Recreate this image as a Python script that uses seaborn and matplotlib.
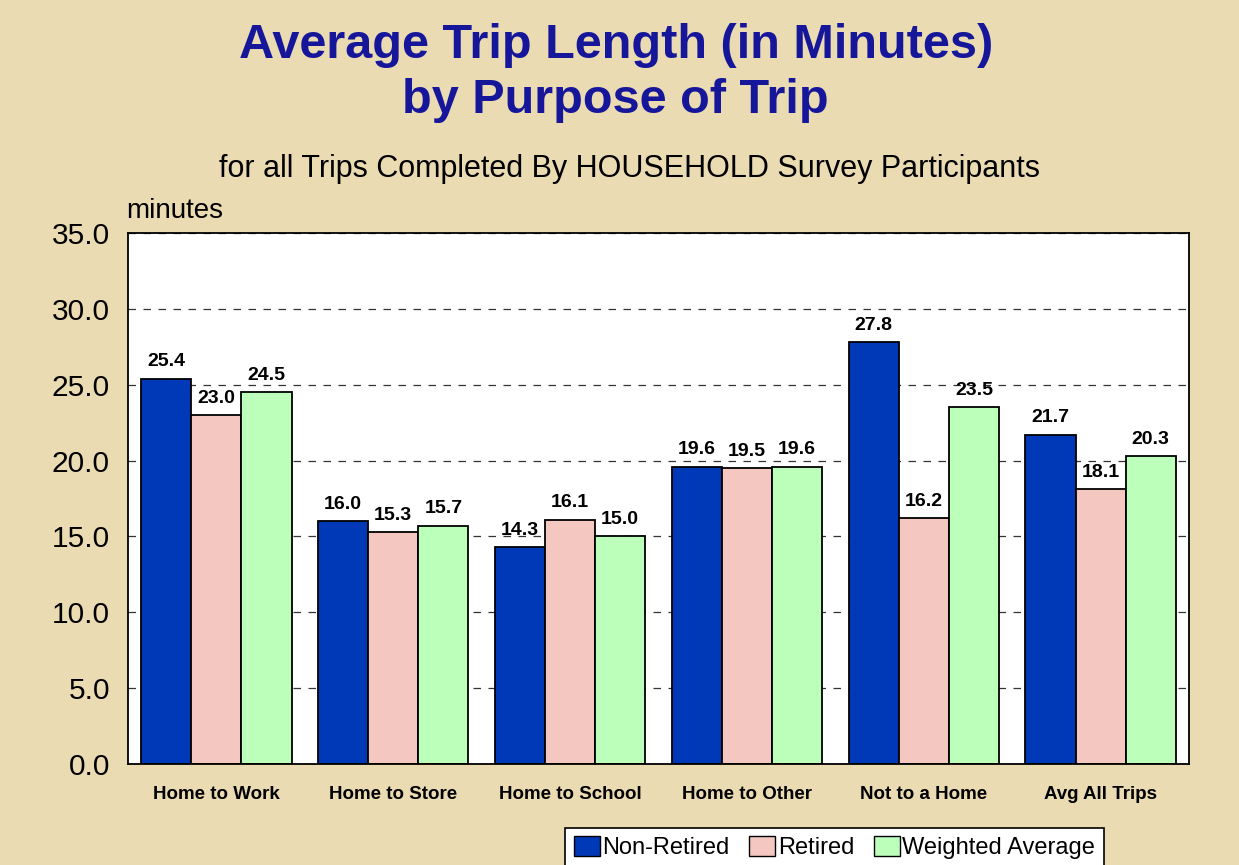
import pandas as pd
import matplotlib
matplotlib.use('Agg')
import matplotlib.pyplot as plt
import seaborn as sns

# Dados
categorias = ['Home to Work', 'Home to Store', 'Home to School', 'Home to Other', 'Not to a Home', 'Avg All Trips']
series = ['Non-Retired', 'Retired', 'Weighted Average']
non_retired = [25.4, 16.0, 14.3, 19.6, 27.8, 21.7]
retired = [23.0, 15.3, 16.1, 19.5, 16.2, 18.1]
weighted = [24.5, 15.7, 15.0, 19.6, 23.5, 20.3]
y_ticks = [0, 5, 10, 15, 20, 25, 30, 35]

cores = ['#0039B8', '#F4C8C0', '#BBFFBB']

df = pd.DataFrame({
    'categoria': categorias * 3,
    'serie': [series[0]] * 6 + [series[1]] * 6 + [series[2]] * 6,
    'valor': non_retired + retired + weighted,
})

sns.set_style("white")
plt.rcParams['font.family'] = ['Liberation Sans', 'DejaVu Sans']
plt.rcParams['text.color'] = 'black'
plt.rcParams['xtick.color'] = 'black'
plt.rcParams['ytick.color'] = 'black'

fig = plt.figure(figsize=(12.39, 8.65), dpi=100)
fig.patch.set_facecolor('#EADBB2')
ax = fig.add_axes([0.1033, 0.1168, 0.8564, 0.6138])

sns.barplot(data=df, x='categoria', y='valor', hue='serie', order=categorias,
            hue_order=series, palette=cores, saturation=1, width=0.85, gap=0,
            edgecolor='black', linewidth=1.3, ax=ax, legend=True)

for cont in ax.containers:
    ax.bar_label(cont, fmt='%.1f', padding=6, fontsize=14, fontweight='bold', zorder=5)

ax.set_ylim(0, 35)
ax.set_yticks(y_ticks)
ax.set_yticklabels([f'{v:.1f}' for v in y_ticks], fontsize=21.5)
ax.set_xlim(-0.5, 5.5)
ax.set_xlabel('')
ax.set_ylabel('')
ax.tick_params(axis='x', length=0, pad=16, labelsize=13.5)
for lbl in ax.get_xticklabels():
    lbl.set_fontweight('bold')
ax.tick_params(axis='y', direction='out', length=7, width=1, color='black', pad=6)
ax.yaxis.grid(True, linestyle=(0, (6, 6)), color='#333333', linewidth=0.9)
ax.set_axisbelow(True)
for s in ax.spines.values():
    s.set_color('black')
    s.set_linewidth(1.3)
ax.set_facecolor('white')

# Títulos
fig.text(0.497, 0.947, 'Average Trip Length (in Minutes)', ha='center', va='center',
         fontsize=35, fontweight='bold', color='#16169A')
fig.text(0.497, 0.884, 'by Purpose of Trip', ha='center', va='center',
         fontsize=35, fontweight='bold', color='#16169A')
fig.text(0.508, 0.805, 'for all Trips Completed By HOUSEHOLD Survey Participants',
         ha='center', va='center', fontsize=22)
fig.text(0.102, 0.756, 'minutes', ha='left', va='center', fontsize=20)

# Legenda
ax.legend_.remove()
handles = [plt.Rectangle((0, 0), 1, 1, facecolor=c, edgecolor='black', linewidth=1) for c in cores]
leg = fig.legend(handles, series, loc='upper center', bbox_to_anchor=(0.6735, 0.043),
                 ncol=3, fontsize=17, frameon=True, fancybox=False, framealpha=1,
                 edgecolor='black', handlelength=1.1, handleheight=0.9,
                 handletextpad=0.1, columnspacing=0.85, borderpad=0.35,
                 borderaxespad=0)
leg.get_frame().set_linewidth(1.2)

plt.savefig('out.png', dpi=100, facecolor=fig.get_facecolor())
